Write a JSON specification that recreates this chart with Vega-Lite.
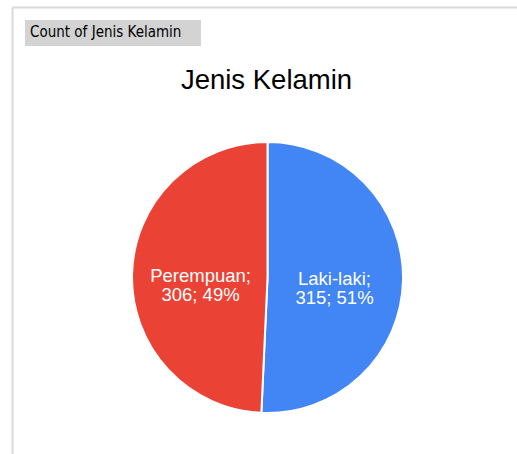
{
  "$schema": "https://vega.github.io/schema/vega-lite/v6.json",
  "width": 505,
  "height": 447,
  "autosize": {"type": "none"},
  "padding": {"left": 12, "top": 7, "right": 0, "bottom": 0},
  "background": "white",
  "title": {"text": "Jenis Kelamin", "font": "Liberation Sans", "fontSize": 27.5, "fontWeight": "normal", "color": "#000000", "anchor": "middle", "baseline": "alphabetic", "offset": -112, "dx": 2},
  "config": {"view": {"stroke": null}},
  "layer": [
    {
      "data": {"values": [{"f": 0}, {"f": 1}]},
      "mark": {"type": "point", "opacity": 0},
      "encoding": {
        "x": {"field": "f", "type": "quantitative", "scale": {"domain": [0, 1], "nice": false, "zero": false}, "axis": {"orient": "top", "title": null, "labels": false, "ticks": false, "grid": false, "domainColor": "#d9d9d9", "domainWidth": 2}},
        "y": {"field": "f", "type": "quantitative", "scale": {"domain": [0, 1], "nice": false, "zero": false}, "axis": {"orient": "left", "title": null, "labels": false, "ticks": false, "grid": false, "domainColor": "#d9d9d9", "domainWidth": 2}}
      }
    },
    {
      "data": {"values": [
        {"Jenis Kelamin": "Laki-laki", "Count": 315, "Label": "Laki-laki;\n315; 51%"},
        {"Jenis Kelamin": "Perempuan", "Count": 306, "Label": "Perempuan;\n306; 49%"}
      ]},
      "layer": [
        {
          "mark": {"type": "arc", "radius": 135.5, "stroke": "white", "strokeWidth": 2},
          "encoding": {
            "theta": {"field": "Count", "type": "quantitative", "stack": true},
            "color": {
              "field": "Jenis Kelamin", "type": "nominal",
              "scale": {"domain": ["Laki-laki", "Perempuan"], "range": ["#4285f4", "#ea4335"]},
              "legend": {
                "title": "Count of Jenis Kelamin", "orient": "top-left", "offset": 13,
                "direction": "horizontal",
                "fillColor": "#d3d3d3", "padding": 5,
                "titleFont": "DejaVu Sans Condensed", "titleFontSize": 15, "titleFontWeight": "normal", "titleColor": "#000000", "titlePadding": 0, "titleLimit": 300,
                "symbolSize": 0, "symbolOpacity": 0, "symbolStrokeWidth": 0, "labelOpacity": 0, "labelFontSize": 1, "columnPadding": 154, "labelOffset": 0, "symbolOffset": 0
              }
            },
            "x": {"datum": 0.506, "type": "quantitative"},
            "y": {"datum": 0.395, "type": "quantitative"}
          }
        },
        {
          "mark": {"type": "text", "radius": 67, "fill": "white", "font": "Liberation Sans", "fontSize": 18.5, "lineBreak": "\n", "lineHeight": 19.5, "dy": 0},
          "encoding": {
            "theta": {"field": "Count", "type": "quantitative", "stack": true},
            "detail": {"field": "Jenis Kelamin", "type": "nominal"},
            "text": {"field": "Label", "type": "nominal"},
            "x": {"datum": 0.506, "type": "quantitative"},
            "y": {"datum": 0.395, "type": "quantitative"}
          }
        }
      ]
    }
  ]
}
